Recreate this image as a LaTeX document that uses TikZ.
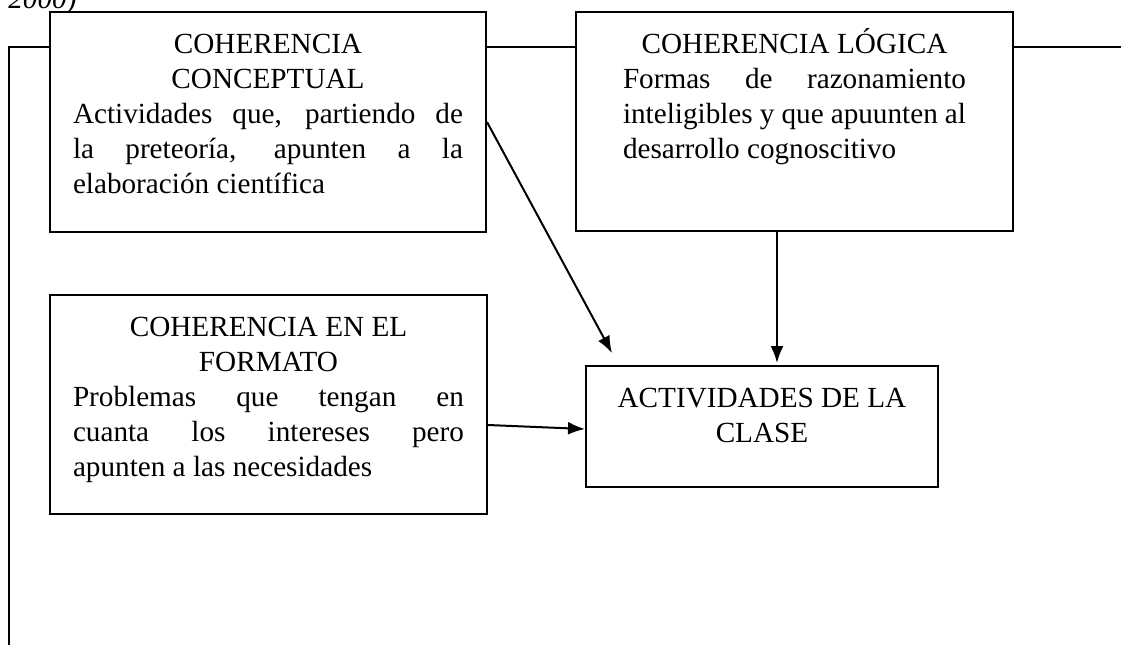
\documentclass[tikz,border=0pt]{standalone}
\usepackage{fontspec}
\setmainfont{Liberation Serif}
\usetikzlibrary{arrows.meta}

% ancho, alto, titulo, texto
\newcommand{\cajatexto}[4]{%
  \parbox[t][#2][t]{#1}{\tolerance=10000\hbadness=10000\parindent=0pt
    {\centering\rule{0pt}{20.5pt}#3\par}#4}}

\begin{document}
\begin{tikzpicture}[x=0.5pt, y=-0.5pt, >={Latex[length=8.5pt,width=6.5pt]},
    caja/.style={draw, fill=white, line width=1pt, anchor=north west,
      inner xsep=11.5pt, inner ysep=0pt, font=\fontsize{14.6pt}{17.5pt}\selectfont},
    flecha/.style={->, line width=1pt}]
    \clip (0,0) rectangle (1121,645);

    \node[anchor=base west, inner sep=0pt, font=\fontsize{14.6pt}{17.5pt}\selectfont\itshape] (fecha) at (8,8) {2000)};

    % marco
    \coordinate (marcoabajo) at (9,645);
    \coordinate (marcoderecha) at (1121,47);
    \draw[line width=1pt] (marcoabajo) |- (marcoderecha);

    \node[caja] (conceptual) at (49,11) {\cajatexto{195pt}{110pt}{COHERENCIA\\CONCEPTUAL}%
      {Actividades que, partiendo de\linebreak la preteoría, apunten a la\linebreak elaboración científica}};
    \node[caja, inner xsep=23.5pt] (logica) at (575,11) {\cajatexto{171.5pt}{109.5pt}{COHERENCIA LÓGICA}%
      {Formas de razonamiento\linebreak inteligibles y que apuunten al\linebreak desarrollo cognoscitivo}};
    \node[caja] (formato) at (49,294) {\cajatexto{195.5pt}{109.5pt}{COHERENCIA EN EL\\FORMATO}%
      {Problemas que tengan en\linebreak cuanta los intereses pero\linebreak apunten a las necesidades}};
    \node[caja] (clase) at (585,365) {\cajatexto{153pt}{60.5pt}{ACTIVIDADES DE LA\\CLASE}{}};

    \draw[flecha] (conceptual.east) -- ([xshift=13.5pt,yshift=6pt]clase.north west);
    \draw[flecha] ([xshift=-8.75pt]logica.south) -- ([xshift=-8.75pt,yshift=1pt]logica.south |- clase.north);
    \draw[flecha] ([yshift=-10.25pt]formato.east) -- ([yshift=-1.25pt]clase.west);

\end{tikzpicture}
\end{document}
